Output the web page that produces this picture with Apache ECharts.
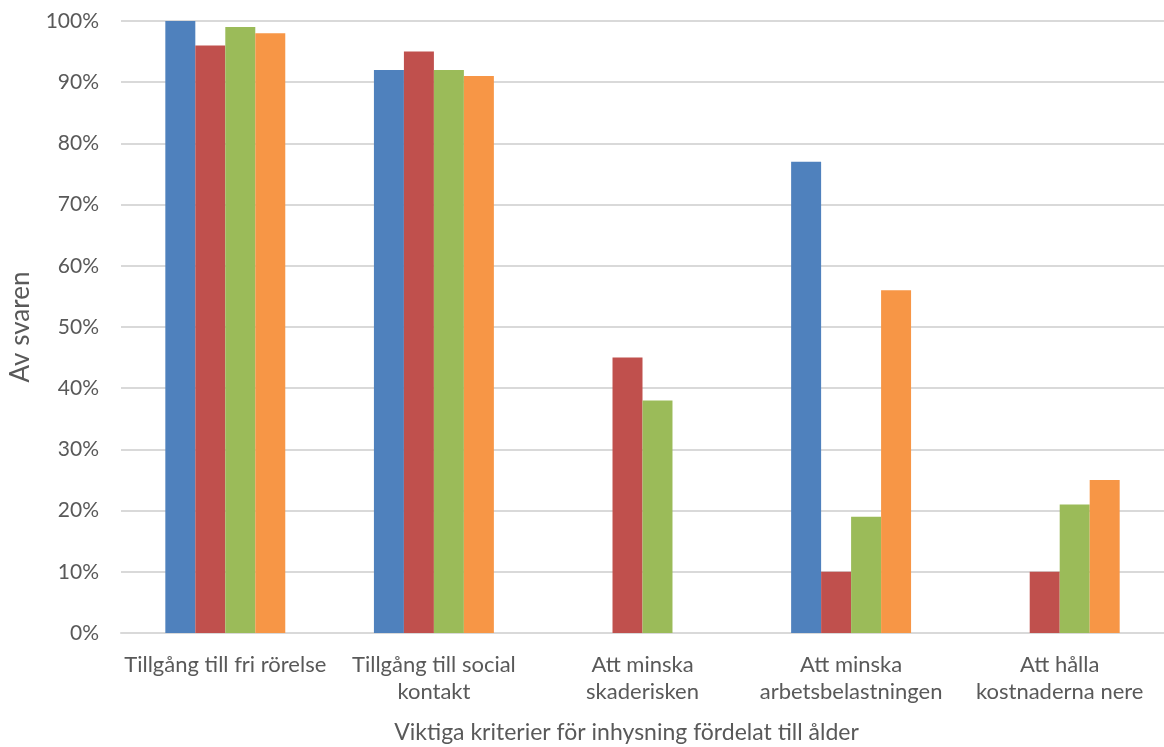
<!DOCTYPE html>
<html><head><meta charset="utf-8">
<script src="https://cdn.jsdelivr.net/npm/echarts@6/dist/echarts.min.js"></script>
<style>html,body{margin:0;padding:0;background:#fff;overflow:hidden;width:100%;height:100%}#c{width:1164px;height:747px}</style>
</head><body><div id="c"></div>
<script>
const categories = ['Tillgång till fri rörelse', 'Tillgång till social\nkontakt', 'Att minska\nskaderisken', 'Att minska\narbetsbelastningen', 'Att hålla\nkostnaderna nere'];
const seriesNames = ['Serie 1', 'Serie 2', 'Serie 3', 'Serie 4'];
const blueValues = [100, 92, null, 77, null];
const redValues = [96, 95, 45, 10, 10];
const greenValues = [99, 92, 38, 19, 21];
const orangeValues = [98, 91, null, 56, 25];
const colors = ['#4F81BD', '#C0504D', '#9BBB59', '#F79646'];
const font = 'Lato, sans-serif';
const chart = echarts.init(document.getElementById('c'));
const all = [blueValues, redValues, greenValues, orangeValues];
chart.setOption({
  animation: false,
  grid: {left: 121, right: 0, top: 21, bottom: 114, containLabel: false, outerBoundsMode: 'none'},
  xAxis: {
    type: 'category', data: categories,
    name: 'Viktiga kriterier för inhysning fördelat till ålder',
    nameLocation: 'middle', nameGap: 88,
    nameTextStyle: {fontFamily: font, fontSize: 23, color: '#595959', padding: [0, 32, 0, 0]},
    axisLine: {lineStyle: {color: '#d9d9d9', width: 2}},
    axisTick: {show: false},
    axisLabel: {fontFamily: font, fontSize: 22, color: '#595959', margin: 18, lineHeight: 27, interval: 0}
  },
  yAxis: {
    type: 'value', min: 0, max: 100, interval: 10,
    name: 'Av svaren', nameLocation: 'middle', nameGap: 87,
    nameTextStyle: {fontFamily: font, fontSize: 26, color: '#595959'},
    axisLine: {show: false}, axisTick: {show: false},
    axisLabel: {fontFamily: font, fontSize: 21, color: '#595959', margin: 22, formatter: '{value}%'},
    splitLine: {lineStyle: {color: '#d9d9d9', width: 2}}
  },
  series: all.map((d, i) => ({
    name: seriesNames[i], type: 'bar', data: d,
    barGap: '0%', barCategoryGap: '42.5%',
    itemStyle: {color: colors[i]}
  }))
});
</script></body></html>
